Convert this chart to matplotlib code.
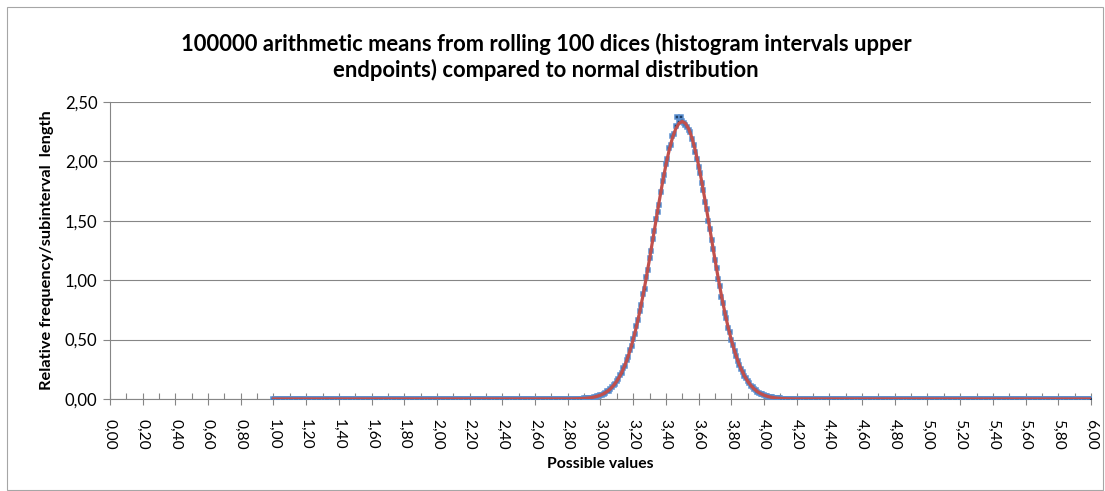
import numpy as np
import matplotlib.pyplot as plt
from matplotlib.ticker import MultipleLocator, FuncFormatter
from matplotlib.patches import Rectangle

plt.rcParams['font.family'] = ['Lato', 'DejaVu Sans']

# histogram interval upper endpoints 1,00 .. 6,00 (step 0,01)
bin_ends = np.round(np.arange(100, 601) / 100, 2)

# relative frequency / subinterval length for 2,80 .. 4,20
# (everything outside that stretch sits on 0)
hist_core = [
    0.000, 0.001, 0.001, 0.001, 0.002, 0.001, 0.002, 0.003, 0.003, 0.004,
    0.005, 0.006, 0.008, 0.009, 0.011, 0.012, 0.016, 0.019, 0.023, 0.026,
    0.033, 0.037, 0.046, 0.052, 0.064, 0.071, 0.086, 0.097, 0.115, 0.128,
    0.153, 0.170, 0.199, 0.221, 0.257, 0.281, 0.326, 0.356, 0.409, 0.446,
    0.505, 0.547, 0.615, 0.664, 0.741, 0.792, 0.880, 0.930, 1.028, 1.088,
    1.185, 1.245, 1.350, 1.410, 1.515, 1.575, 1.630, 1.740, 1.838, 1.885,
    1.980, 2.020, 2.110, 2.135, 2.215, 2.230, 2.300, 2.370, 2.335, 2.370,
    2.340,
    2.325, 2.310, 2.290, 2.260, 2.250, 2.190, 2.140, 2.080, 2.020,
    1.955, 1.905, 1.815, 1.760, 1.660, 1.600, 1.495, 1.430, 1.335, 1.265,
    1.170, 1.105, 1.010, 0.950, 0.860, 0.810, 0.725, 0.680, 0.600, 0.560,
    0.495, 0.455, 0.400, 0.365, 0.318, 0.290, 0.250, 0.226, 0.194, 0.175,
    0.148, 0.132, 0.112, 0.099, 0.083, 0.073, 0.061, 0.054, 0.044, 0.038,
    0.031, 0.027, 0.022, 0.019, 0.015, 0.013, 0.010, 0.009, 0.007, 0.006,
    0.005, 0.004, 0.003, 0.002, 0.002, 0.002, 0.001, 0.001, 0.001, 0.000,
    0.001,
]
hist_start = 2.80

# normal distribution curve, read at 2,80 .. 4,20 every 0,02
normal_x = np.round(np.arange(280, 421, 2) / 100, 2)
normal_y = [
    0.0005, 0.0008, 0.0013, 0.0021, 0.0032, 0.0049, 0.0073, 0.0108, 0.0158, 0.0227,
    0.0321, 0.0450, 0.0621, 0.0846, 0.1136, 0.1504, 0.1965, 0.253, 0.322, 0.404,
    0.499, 0.609, 0.733, 0.870, 1.019, 1.177, 1.341, 1.506, 1.669, 1.825,
    1.968, 2.093, 2.196, 2.273, 2.320, 2.336, 2.320, 2.273, 2.196, 2.093,
    1.968, 1.825, 1.669, 1.506, 1.341, 1.177, 1.019, 0.870, 0.733, 0.609,
    0.499, 0.404, 0.322, 0.253, 0.1965, 0.1504, 0.1136, 0.0846, 0.0621, 0.0450,
    0.0321, 0.0227, 0.0158, 0.0108, 0.0073, 0.0049, 0.0032, 0.0021, 0.0013, 0.0008,
    0.0005,
]
curve_ends = [1.00, 6.00]

hist = np.zeros(len(bin_ends))
i0 = int(round((hist_start - 1.00) * 100))
hist[i0:i0 + len(hist_core)] = hist_core

line_x = np.concatenate([[curve_ends[0]], normal_x, [curve_ends[1]]])
line_y = np.concatenate([[0.0], normal_y, [0.0]])

fig = plt.figure(figsize=(11.05, 4.91), dpi=100)
fig.patches.append(Rectangle((0.006, 0.003), 0.992, 0.983, transform=fig.transFigure,
                             fill=False, edgecolor='#a6a6a6', linewidth=0.8))
ax = fig.add_axes([0.0995, 0.1874, 0.8878, 0.6049])

ax.plot(bin_ends, hist, linestyle='none', marker='s', markersize=2.5,
        markerfacecolor='#1f3f66', markeredgecolor='#5b8fd0', markeredgewidth=1.1,
        zorder=3)
ax.plot(line_x, line_y, color='#c0504d', linewidth=2.3, zorder=4)

ax.set_xlim(0, 6)
ax.set_ylim(0, 2.5)
ax.xaxis.set_major_locator(MultipleLocator(0.2))
ax.xaxis.set_minor_locator(MultipleLocator(0.1))
ax.yaxis.set_major_locator(MultipleLocator(0.5))
fmt = FuncFormatter(lambda v, p: f"{v:.2f}".replace('.', ','))
ax.xaxis.set_major_formatter(fmt)
ax.yaxis.set_major_formatter(fmt)

ax.grid(axis='y', color='#868686', linewidth=0.8)
ax.set_axisbelow(True)
for s in ['top', 'right']:
    ax.spines[s].set_visible(False)
for s in ['left', 'bottom']:
    ax.spines[s].set_color('#868686')
    ax.spines[s].set_linewidth(0.8)

ax.tick_params(axis='x', which='major', direction='inout', length=9, width=0.8,
               color='#868686', labelsize=11.2, labelrotation=-90, pad=10)
ax.tick_params(axis='x', which='minor', direction='in', length=4, width=0.8,
               color='#868686')
ax.tick_params(axis='y', which='major', direction='out', length=5, width=0.8,
               color='#868686', labelsize=12, pad=4)

ax.set_xlabel('Possible values', fontsize=11.3, fontweight='bold', labelpad=5)
ax.set_ylabel('Relative frequency/subinterval  length', fontsize=11.8,
              fontweight='bold', labelpad=8)
fig.suptitle('100000 arithmetic means from rolling 100 dices (histogram intervals upper\n'
             'endpoints) compared to normal distribution',
             x=0.494, y=0.933, fontsize=15.8, fontweight='bold', linespacing=1.2)

fig.savefig('out.png', dpi=100)
